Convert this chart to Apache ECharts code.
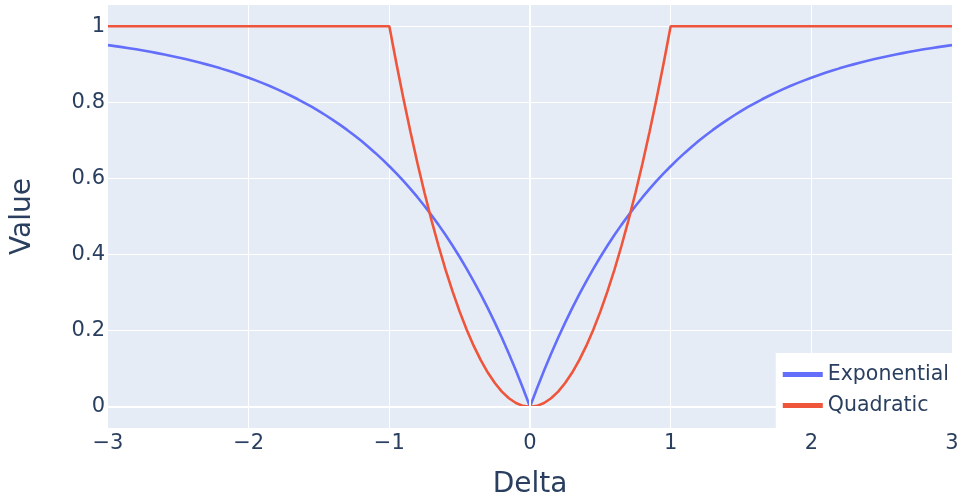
<!DOCTYPE html>
<html>
<head>
<meta charset="utf-8">
<script src="https://cdn.jsdelivr.net/npm/echarts@6/dist/echarts.min.js"></script>
<style>html,body{margin:0;padding:0;background:#fff;}#c{width:961px;height:497px;}</style>
</head>
<body>
<div id="c"></div>
<script>
const deltas = [-3.0,-2.95,-2.9,-2.85,-2.8,-2.75,-2.7,-2.65,-2.6,-2.55,-2.5,-2.45,-2.4,-2.35,-2.3,-2.25,-2.2,-2.15,-2.1,-2.05,-2.0,-1.95,-1.9,-1.85,-1.8,-1.75,-1.7,-1.65,-1.6,-1.55,-1.5,-1.45,-1.4,-1.35,-1.3,-1.25,-1.2,-1.15,-1.1,-1.05,-1.0,-0.95,-0.9,-0.85,-0.8,-0.75,-0.7,-0.65,-0.6,-0.55,-0.5,-0.45,-0.4,-0.35,-0.3,-0.25,-0.2,-0.15,-0.1,-0.05,0.0,0.05,0.1,0.15,0.2,0.25,0.3,0.35,0.4,0.45,0.5,0.55,0.6,0.65,0.7,0.75,0.8,0.85,0.9,0.95,1.0,1.05,1.1,1.15,1.2,1.25,1.3,1.35,1.4,1.45,1.5,1.55,1.6,1.65,1.7,1.75,1.8,1.85,1.9,1.95,2.0,2.05,2.1,2.15,2.2,2.25,2.3,2.35,2.4,2.45,2.5,2.55,2.6,2.65,2.7,2.75,2.8,2.85,2.9,2.95,3.0];
const exponential = [0.9502,0.9477,0.9450,0.9422,0.9392,0.9361,0.9328,0.9293,0.9257,0.9219,0.9179,0.9137,0.9093,0.9046,0.8997,0.8946,0.8892,0.8835,0.8775,0.8713,0.8647,0.8577,0.8504,0.8428,0.8347,0.8262,0.8173,0.8080,0.7981,0.7878,0.7769,0.7654,0.7534,0.7408,0.7275,0.7135,0.6988,0.6834,0.6671,0.6501,0.6321,0.6133,0.5934,0.5726,0.5507,0.5276,0.5034,0.4780,0.4512,0.4231,0.3935,0.3624,0.3297,0.2953,0.2592,0.2212,0.1813,0.1393,0.0952,0.0488,0.0,0.0488,0.0952,0.1393,0.1813,0.2212,0.2592,0.2953,0.3297,0.3624,0.3935,0.4231,0.4512,0.4780,0.5034,0.5276,0.5507,0.5726,0.5934,0.6133,0.6321,0.6501,0.6671,0.6834,0.6988,0.7135,0.7275,0.7408,0.7534,0.7654,0.7769,0.7878,0.7981,0.8080,0.8173,0.8262,0.8347,0.8428,0.8504,0.8577,0.8647,0.8713,0.8775,0.8835,0.8892,0.8946,0.8997,0.9046,0.9093,0.9137,0.9179,0.9219,0.9257,0.9293,0.9328,0.9361,0.9392,0.9422,0.9450,0.9477,0.9502];
const quadratic = [1,1,1,1,1,1,1,1,1,1,1,1,1,1,1,1,1,1,1,1,1,1,1,1,1,1,1,1,1,1,1,1,1,1,1,1,1,1,1,1,1,0.9025,0.81,0.7225,0.64,0.5625,0.49,0.4225,0.36,0.3025,0.25,0.2025,0.16,0.1225,0.09,0.0625,0.04,0.0225,0.01,0.0025,0.0,0.0025,0.01,0.0225,0.04,0.0625,0.09,0.1225,0.16,0.2025,0.25,0.3025,0.36,0.4225,0.49,0.5625,0.64,0.7225,0.81,0.9025,1,1,1,1,1,1,1,1,1,1,1,1,1,1,1,1,1,1,1,1,1,1,1,1,1,1,1,1,1,1,1,1,1,1,1,1,1,1,1,1,1];
const yTicks = [0, 0.2, 0.4, 0.6, 0.8, 1];
const xTicks = [-3, -2, -1, 0, 1, 2, 3];

const FONT = 'DejaVu Sans';
const TXT = '#2a3f5f';
const chart = echarts.init(document.getElementById('c'), null, {renderer: 'canvas'});
const pairs = (ys) => deltas.map((x, i) => [x, ys[i]]);
chart.setOption({
  animation: false,
  backgroundColor: '#ffffff',
  textStyle: {fontFamily: FONT, color: TXT},
  grid: {left: 108, right: 9, top: 5, bottom: 69, show: true, backgroundColor: '#E5ECF6', borderWidth: 0,
    outerBoundsMode: 'none', containLabel: false},
  xAxis: {
    type: 'value', min: -3, max: 3, interval: 1,
    name: 'Delta', nameLocation: 'middle', nameGap: 43,
    nameTextStyle: {fontFamily: FONT, fontSize: 28, color: TXT},
    axisLine: {show: false}, axisTick: {show: false},
    axisLabel: {fontFamily: FONT, fontSize: 21, color: TXT, margin: 5,
      formatter: v => String(v).replace('-', '\u2212')},
    splitLine: {show: true, showMinLine: false, showMaxLine: false, lineStyle: {color: '#ffffff', width: 1}}
  },
  yAxis: {
    type: 'value', min: -0.0557, max: 1.0557,
    name: 'Value', nameLocation: 'middle', nameGap: 71, nameRotate: 90,
    nameTextStyle: {fontFamily: FONT, fontSize: 28, color: TXT},
    axisLine: {show: false},
    axisTick: {show: false, customValues: yTicks},
    axisLabel: {fontFamily: FONT, fontSize: 21, color: TXT, margin: 3, customValues: yTicks,
      formatter: v => String(Math.round(v * 10) / 10)},
    splitLine: {show: true, lineStyle: {color: '#ffffff', width: 1}}
  },
  legend: {
    orient: 'vertical', right: 8, bottom: 69, z: 20, zlevel: 0,
    backgroundColor: '#ffffff', padding: [11, 4, 12, 7],
    itemWidth: 40, itemHeight: 5, itemGap: 10, icon: 'rect',
    textStyle: {fontFamily: FONT, fontSize: 20.5, color: TXT},
    data: ['Exponential', 'Quadratic']
  },
  series: [
    {
      type: 'line', name: 'zero', data: [], z: 1, silent: true,
      markLine: {silent: true, symbol: 'none', label: {show: false},
        lineStyle: {color: '#ffffff', width: 2, type: 'solid'},
        data: [{xAxis: 0}, {yAxis: 0}]}
    },
    {type: 'line', name: 'Exponential', data: pairs(exponential), showSymbol: false, symbol: 'none',
      lineStyle: {color: '#636EFA', width: 2.6}, itemStyle: {color: '#636EFA'}, z: 3},
    {type: 'line', name: 'Quadratic', data: pairs(quadratic), showSymbol: false, symbol: 'none',
      lineStyle: {color: '#EF553B', width: 2.6}, itemStyle: {color: '#EF553B'}, z: 4}
  ]
});
</script>
</body>
</html>
